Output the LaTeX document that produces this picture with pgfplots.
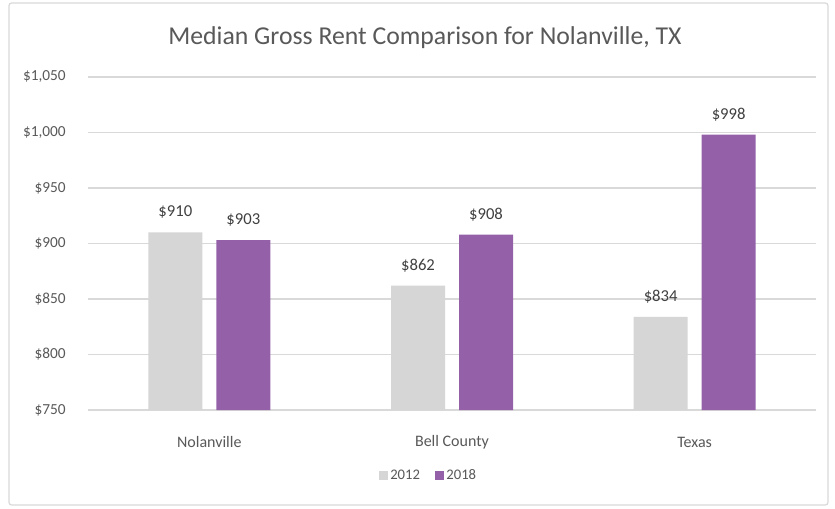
\documentclass[border=0pt]{standalone}
\usepackage{pgfplots}
\pgfplotsset{compat=1.18}
\usepackage{fontspec}
\setmainfont{Carlito}
\definecolor{gr}{HTML}{D6D6D6}
\definecolor{pu}{HTML}{9460A8}
\definecolor{tx}{HTML}{595959}
\definecolor{vl}{HTML}{404040}
\definecolor{gl}{HTML}{D9D9D9}
\begin{document}
\begin{tikzpicture}
\path[use as bounding box] (-66pt,-73.5pt) rectangle (560.25pt,307.5pt);
\fill[white] (-66pt,-73.5pt) rectangle (560.25pt,307.5pt);
\draw[gl, line width=0.9pt, rounded corners=2pt] (-59.25pt,-71.25pt) rectangle (555pt,305.25pt);
\begin{axis}[
  at={(0pt,0pt)}, anchor=south west,
  scale only axis, width=546pt, height=249.75pt,
  ymin=750, ymax=1050, ytick={750,800,...,1050},
  xmin=-0.5, xmax=2.5, xtick={0,1,2},
  xticklabels={Nolanville,Bell County,Texas},
  ybar=10.5pt, bar width=40.5pt,
  axis line style={draw=none}, tick style={draw=none},
  ymajorgrids, grid style={gl, line width=0.9pt},
  /pgf/number format/.cd, 1000 sep={,}, assume math mode=true, /pgfplots/.cd,
  yticklabel={\$\pgfmathprintnumber{\tick}},
  yticklabel style={font=\fontsize{11.5}{13}\selectfont, text=tx, anchor=east, inner sep=0pt, xshift=-16.5pt},
  xticklabel style={font=\fontsize{12}{14}\selectfont, text=tx, anchor=center, inner sep=0pt, yshift=-20pt},
  nodes near coords={\$\pgfmathprintnumber{\pgfplotspointmeta}},
  every node near coord/.append style={font=\fontsize{12.5}{14}\selectfont, text=vl, anchor=center, inner sep=0pt, yshift=15pt},
  legend style={at={(0.468,-0.198)}, anchor=center, draw=none, fill=none, font=\fontsize{11}{13}\selectfont, text=tx,
    legend columns=2, /tikz/every even column/.append style={column sep=9pt}},
  legend image code/.code={\fill[#1] (0pt,-3.4pt) rectangle (6.8pt,3.4pt);},
]
\addplot[fill=gr, draw=none] coordinates {(0,910) (1,862) (2,834)};
\addplot[fill=pu, draw=none] coordinates {(0,903) (1,908) (2,998)};
\legend{2012,2018}
\end{axis}
\node[font=\fontsize{19.3}{23}\selectfont, text=tx] at (252.75pt,279pt) {Median Gross Rent Comparison for Nolanville, TX};
\end{tikzpicture}
\end{document}
